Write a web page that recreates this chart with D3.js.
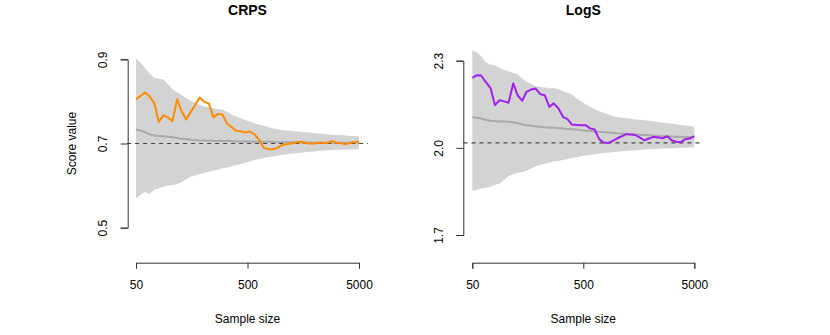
<!DOCTYPE html>
<html>
<head>
<meta charset="utf-8">
<script src="https://cdn.jsdelivr.net/npm/d3@7"></script>
<style>
  body { margin: 0; background: #fff; }
  svg { font-family: "Liberation Sans", Arial, Helvetica, sans-serif; }
</style>
</head>
<body>
<div class="chart"></div>
<script>
// sample sizes (log spaced, 50 ... 5000)
var sampleSize = [50, 55, 60, 66, 73, 80, 88, 97, 106, 117, 128, 141, 154, 170, 186, 205, 225, 247, 271, 298,
  328, 360, 395, 434, 477, 524, 576, 633, 695, 763, 839, 921, 1012, 1112, 1221, 1342, 1474, 1619, 1779, 1954,
  2147, 2358, 2590, 2846, 3126, 3434, 3773, 4145, 4553, 5000];

// CRPS panel
var crpsObs = [0.805, 0.813, 0.821, 0.812, 0.796, 0.751, 0.767, 0.762, 0.753, 0.805,
  0.777, 0.757, 0.774, 0.792, 0.809, 0.799, 0.795, 0.762, 0.770, 0.769,
  0.747, 0.739, 0.730, 0.729, 0.726, 0.7285, 0.722, 0.709, 0.6905, 0.6865,
  0.6865, 0.689, 0.696, 0.698, 0.700, 0.702, 0.704, 0.702, 0.700, 0.700,
  0.702, 0.702, 0.701, 0.706, 0.702, 0.701, 0.698, 0.702, 0.703, 0.704];
var crpsMean = [0.733, 0.731, 0.727, 0.722, 0.719, 0.718, 0.717, 0.716, 0.715, 0.713,
  0.711, 0.710, 0.709, 0.708, 0.707, 0.707, 0.707, 0.706, 0.706, 0.706,
  0.706, 0.706, 0.705, 0.705, 0.705, 0.705, 0.704, 0.704, 0.704, 0.704,
  0.704, 0.703, 0.703, 0.703, 0.703, 0.703, 0.703, 0.703, 0.702, 0.702,
  0.702, 0.702, 0.702, 0.702, 0.702, 0.702, 0.702, 0.702, 0.702, 0.702];
var crpsHi = [0.902, 0.892, 0.880, 0.866, 0.856, 0.854, 0.852, 0.840, 0.829, 0.822,
  0.815, 0.808, 0.802, 0.797, 0.792, 0.788, 0.786, 0.784, 0.782, 0.781,
  0.775, 0.768, 0.764, 0.760, 0.756, 0.752, 0.748, 0.745, 0.742, 0.739,
  0.736, 0.734, 0.732, 0.731, 0.730, 0.729, 0.728, 0.727, 0.726, 0.725,
  0.724, 0.723, 0.722, 0.721, 0.720, 0.720, 0.719, 0.718, 0.718, 0.717];
var crpsLo = [0.570, 0.578, 0.585, 0.580, 0.590, 0.594, 0.597, 0.600, 0.601, 0.604,
  0.608, 0.615, 0.621, 0.624, 0.627, 0.630, 0.633, 0.636, 0.638, 0.641,
  0.643, 0.646, 0.649, 0.651, 0.654, 0.657, 0.660, 0.663, 0.665, 0.668,
  0.669, 0.671, 0.673, 0.674, 0.676, 0.677, 0.678, 0.679, 0.680, 0.681,
  0.682, 0.683, 0.684, 0.684, 0.685, 0.685, 0.686, 0.686, 0.686, 0.687];
var crpsRef = 0.70;
var crpsTicks = [0.5, 0.7, 0.9];

// LogS panel
var logsObs = [2.241, 2.250, 2.249, 2.227, 2.206, 2.147, 2.164, 2.160, 2.155, 2.222,
  2.181, 2.162, 2.193, 2.201, 2.204, 2.185, 2.181, 2.141, 2.153, 2.136,
  2.107, 2.099, 2.080, 2.079, 2.078, 2.078, 2.067, 2.063, 2.030, 2.018,
  2.017, 2.024, 2.033, 2.040, 2.047, 2.046, 2.044, 2.035, 2.026, 2.032,
  2.038, 2.036, 2.033, 2.040, 2.026, 2.021, 2.019, 2.030, 2.032, 2.040];
var logsMean = [2.105, 2.104, 2.101, 2.097, 2.093, 2.092, 2.091, 2.091, 2.090, 2.088,
  2.085, 2.081, 2.078, 2.076, 2.074, 2.073, 2.071, 2.070, 2.069, 2.068,
  2.067, 2.065, 2.064, 2.063, 2.061, 2.060, 2.058, 2.056, 2.055, 2.054,
  2.053, 2.052, 2.050, 2.049, 2.048, 2.047, 2.046, 2.045, 2.044, 2.043,
  2.042, 2.041, 2.040, 2.040, 2.039, 2.038, 2.038, 2.037, 2.037, 2.036];
var logsHi = [2.336, 2.328, 2.315, 2.295, 2.286, 2.284, 2.275, 2.268, 2.263, 2.258,
  2.253, 2.238, 2.228, 2.220, 2.213, 2.210, 2.208, 2.206, 2.205, 2.203,
  2.195, 2.190, 2.184, 2.170, 2.160, 2.150, 2.142, 2.133, 2.126, 2.120,
  2.115, 2.110, 2.106, 2.104, 2.102, 2.100, 2.098, 2.097, 2.095, 2.093,
  2.091, 2.089, 2.087, 2.085, 2.083, 2.081, 2.079, 2.077, 2.075, 2.073];
var logsLo = [1.852, 1.856, 1.860, 1.863, 1.866, 1.872, 1.877, 1.890, 1.903, 1.909,
  1.913, 1.917, 1.922, 1.929, 1.937, 1.941, 1.945, 1.950, 1.953, 1.955,
  1.958, 1.962, 1.965, 1.968, 1.971, 1.974, 1.976, 1.978, 1.980, 1.982,
  1.984, 1.985, 1.987, 1.988, 1.990, 1.991, 1.992, 1.993, 1.994, 1.995,
  1.996, 1.997, 1.998, 1.998, 1.999, 1.999, 2.000, 2.000, 2.001, 2.001];
var logsRef = 2.017;
var logsTicks = [1.7, 2.0, 2.3];

var xTicks = [50, 500, 5000];

var svgWidth = 830;
var svgHeight = 335;

var svg = d3.select('.chart')
  .append('svg')
  .attr('width', svgWidth)
  .attr('height', svgHeight);

var panels = [
  {title: 'CRPS', obs: crpsObs, mean: crpsMean, lo: crpsLo, hi: crpsHi, ref: crpsRef,
   ticks: crpsTicks, fmt: d3.format('.1f'), color: '#ff8c00',
   xr: [136, 359], yd: [0.5, 0.9], yr: [227.7, 59.3], axisX: 127.7, ylab: 'Score value'},
  {title: 'LogS', obs: logsObs, mean: logsMean, lo: logsLo, hi: logsHi, ref: logsRef,
   ticks: logsTicks, fmt: d3.format('.1f'), color: '#a020f0',
   xr: [472.3, 694.3], yd: [1.7, 2.3], yr: [235, 60.7], axisX: 463.3, ylab: null}
];

var xAxisY = 262.7;

panels.forEach(function(p) {
  var x = d3.scaleLog().domain([50, 5000]).range(p.xr);
  var y = d3.scaleLinear().domain(p.yd).range(p.yr);
  var g = svg.append('g');

  // plot region edges (R style 4% extension)
  var ext = (p.xr[1] - p.xr[0]) * 0.04;
  var left = p.xr[0] - ext, right = p.xr[1] + ext;

  var area = d3.area()
    .x(function(d, i) { return x(sampleSize[i]); })
    .y0(function(d, i) { return y(p.lo[i]); })
    .y1(function(d, i) { return y(p.hi[i]); });

  g.append('path')
    .datum(sampleSize)
    .attr('d', area)
    .attr('fill', '#d3d3d3');

  var line = function(vals) {
    return d3.line()
      .x(function(d, i) { return x(sampleSize[i]); })
      .y(function(d) { return y(d); })(vals);
  };

  g.append('path')
    .attr('d', line(p.mean))
    .attr('fill', 'none')
    .attr('stroke', '#a9a9a9')
    .attr('stroke-width', 2);

  g.append('line')
    .attr('x1', left).attr('x2', right)
    .attr('y1', y(p.ref)).attr('y2', y(p.ref))
    .attr('stroke', '#444')
    .attr('stroke-width', 1.2)
    .attr('stroke-dasharray', '4,4');

  g.append('path')
    .attr('d', line(p.obs))
    .attr('fill', 'none')
    .attr('stroke', p.color)
    .attr('stroke-width', 2)
    .attr('stroke-linejoin', 'round');

  // axes
  var xAxis = g.append('g')
    .attr('transform', 'translate(0,' + xAxisY + ')')
    .call(d3.axisBottom(x).tickValues(xTicks).tickFormat(d3.format('d')).tickSizeOuter(0).tickSize(6).tickPadding(12));
  xAxis.select('.domain').attr('stroke', '#333');
  xAxis.selectAll('.tick line').attr('stroke', '#333');
  xAxis.selectAll('text').attr('font-size', 12).attr('fill', '#000')
    .attr('font-family', '"Liberation Sans", Arial, sans-serif');

  var yAxis = g.append('g')
    .attr('transform', 'translate(' + p.axisX + ',0)')
    .call(d3.axisLeft(y).tickValues(p.ticks).tickFormat(p.fmt).tickSizeOuter(0).tickSize(7));
  yAxis.select('.domain').attr('stroke', '#333');
  yAxis.selectAll('.tick line').attr('stroke', '#333');
  yAxis.selectAll('text')
    .attr('font-size', 12).attr('fill', '#000')
    .attr('font-family', '"Liberation Sans", Arial, sans-serif')
    .attr('text-anchor', 'middle')
    .attr('transform', 'rotate(-90)')
    .attr('x', 0).attr('y', -20.5).attr('dy', null);

  // titles and labels
  var cx = (left + right) / 2;
  g.append('text')
    .attr('x', cx).attr('y', 15)
    .attr('text-anchor', 'middle')
    .attr('font-size', 14).attr('font-weight', 'bold')
    .text(p.title);

  g.append('text')
    .attr('x', cx).attr('y', 323)
    .attr('text-anchor', 'middle')
    .attr('font-size', 12)
    .text('Sample size');

  if (p.ylab) {
    g.append('text')
      .attr('transform', 'translate(76,' + ((p.yr[0] + p.yr[1]) / 2) + ') rotate(-90)')
      .attr('text-anchor', 'middle')
      .attr('font-size', 12)
      .text(p.ylab);
  }
});
</script>
</body>
</html>
